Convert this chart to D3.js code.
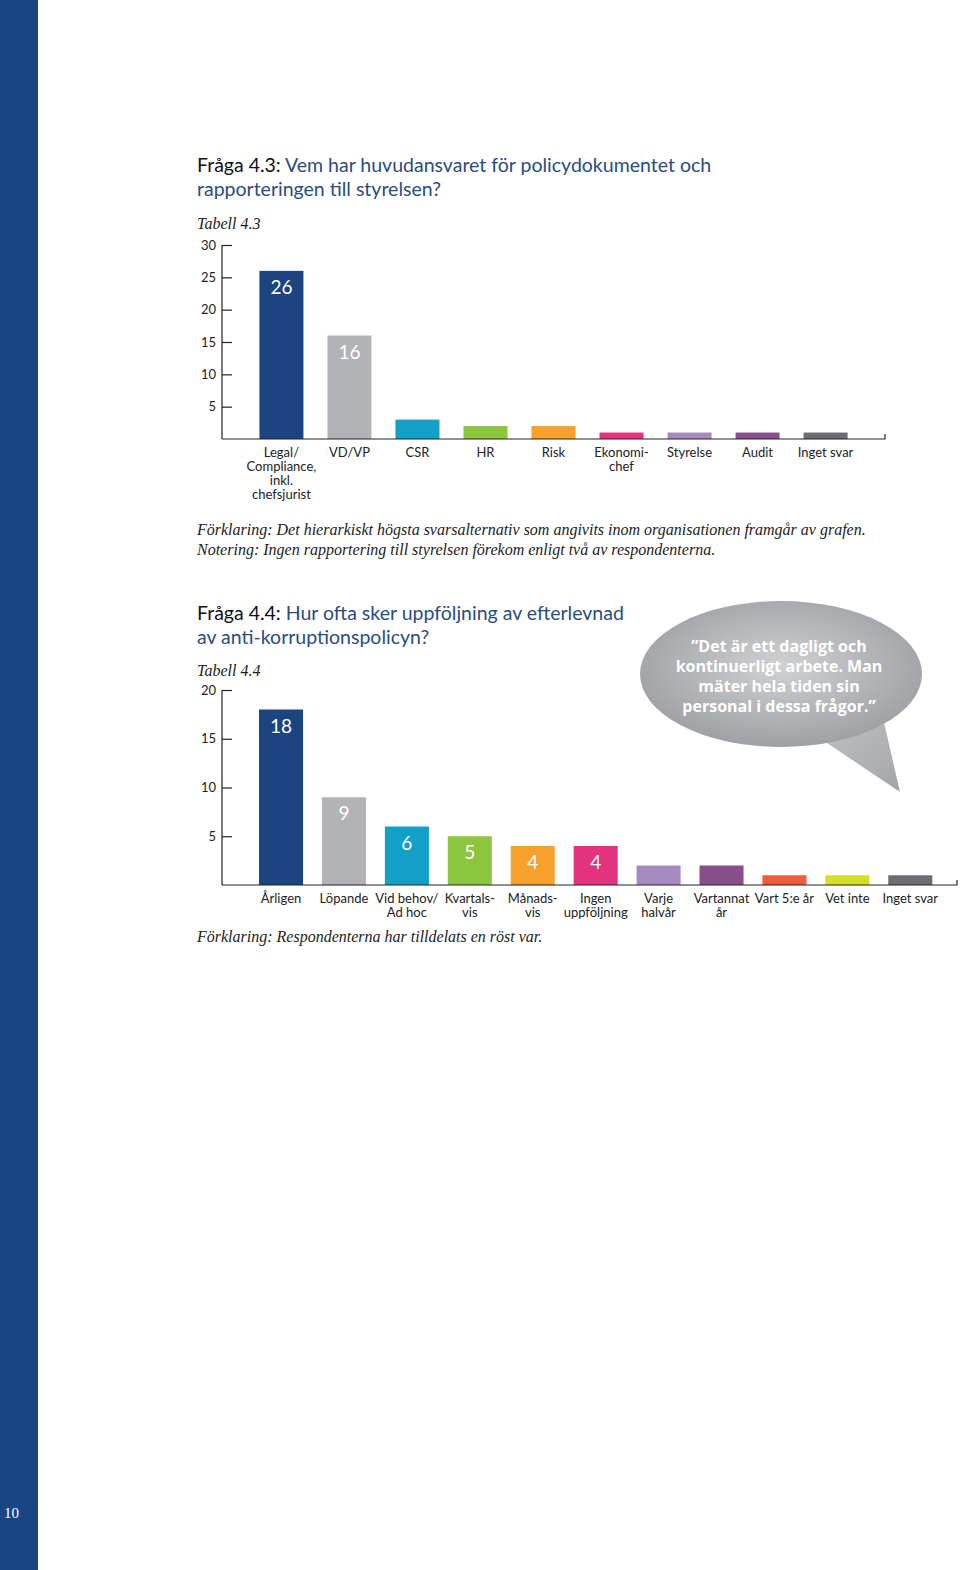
<!DOCTYPE html>
<html><head><meta charset="utf-8">
<script src="https://cdn.jsdelivr.net/npm/d3@7"></script>
<style>
html,body{margin:0;padding:0;background:#fff;}
svg{display:block;}
</style></head>
<body>
<script>
// ---- Data ----
const cats1 = ["Legal/\nCompliance,\ninkl.\nchefsjurist","VD/VP","CSR","HR","Risk","Ekonomi-\nchef","Styrelse","Audit","Inget svar"];
const vals1 = [26,16,3,2,2,1,1,1,1];
const labels1 = ["26","16","","","","","","",""];
const colors1 = ["#1b4480","#b1b3b6","#139fc8","#8cc63f","#f7a02c","#e3327e","#a58ac0","#874f8a","#6c6d70"];
const ticks1 = [5,10,15,20,25,30];

const cats2 = ["Årligen","Löpande","Vid behov/\nAd hoc","Kvartals-\nvis","Månads-\nvis","Ingen\nuppföljning","Varje\nhalvår","Vartannat\når","Vart 5:e år","Vet inte","Inget svar"];
const vals2 = [18,9,6,5,4,4,2,2,1,1,1];
const labels2 = ["18","9","6","5","4","4","","","","",""];
const colors2 = ["#1b4480","#b1b3b6","#139fc8","#8cc63f","#f7a02c","#e3327e","#a58ac0","#874f8a","#f15a3b","#d5de26","#6c6d70"];
const ticks2 = [5,10,15,20];

const quoteLines = ["”Det är ett dagligt och","kontinuerligt arbete. Man","mäter hela tiden sin","personal i dessa frågor.”"];

const W = 960, H = 1570;
const sans = "Lato, 'Open Sans', sans-serif";
const serif = "'Liberation Serif', 'DejaVu Serif', serif";
const blue = "#2a4d80";

const svg = d3.select("body").append("svg").attr("width", W).attr("height", H);

// left band
svg.append("rect").attr("x",0).attr("y",0).attr("width",38).attr("height",H).attr("fill","#174683");
svg.append("text").attr("x",4).attr("y",1518).attr("fill","#fff").attr("font-family",serif).attr("font-size",15).text("10");

function title(y, num, rest1, rest2){
  const t = svg.append("text").attr("x",197).attr("y",y).attr("font-family",sans).attr("font-size",19.5);
  t.append("tspan").attr("fill","#111").text(num);
  t.append("tspan").attr("fill",blue).text(rest1);
  svg.append("text").attr("x",197).attr("y",y+24).attr("font-family",sans).attr("font-size",19.5).attr("fill",blue).text(rest2);
}
function italic(x,y,txt,size){
  svg.append("text").attr("x",x).attr("y",y).attr("font-family",serif).attr("font-style","italic").attr("font-size",size||16).attr("fill","#222").text(txt);
}

function chart(opts){
  const {cats, vals, labels, colors, ticks, dom, y0, y1, x0, x1, align, pi, po} = opts;
  const x = d3.scaleBand().domain(cats).range([x0,x1]).paddingInner(pi).paddingOuter(po).align(align);
  const y = d3.scaleLinear().domain([0,dom]).range([y0,y1]);
  const g = svg.append("g");
  g.selectAll("rect.bar").data(cats).join("rect").attr("class","bar")
    .attr("x", d=>x(d)).attr("width", x.bandwidth())
    .attr("y", (d,i)=>y(vals[i])).attr("height",(d,i)=>y0-y(vals[i]))
    .attr("fill",(d,i)=>colors[i]);
  g.selectAll("text.val").data(cats).join("text").attr("class","val")
    .attr("x", d=>x(d)+x.bandwidth()/2).attr("y",(d,i)=>y(vals[i])+23)
    .attr("text-anchor","middle").attr("font-family",sans).attr("font-size",19).attr("fill","#fff")
    .text((d,i)=>labels[i]);
  // y axis
  const ax = d3.axisLeft(y).tickValues(ticks).tickSize(-10).tickPadding(6).tickFormat(d3.format("d"));
  const ag = svg.append("g").attr("transform",`translate(${x0},0)`).call(ax);
  ag.select(".domain").attr("d", `M0,${y1}V${y0}`).attr("stroke","#222").attr("stroke-width",1.2);
  ag.selectAll(".tick line").attr("stroke","#222").attr("stroke-width",1.2);
  ag.selectAll(".tick text").attr("font-family",sans).attr("font-size",13).attr("fill","#222");
  // baseline
  svg.append("path").attr("d",`M${x0},${y0}H${x1}V${y0-5}`).attr("fill","none").attr("stroke","#222").attr("stroke-width",1.2);
  // category labels
  cats.forEach((c)=>{
    const lines = c.split("\n");
    const t = svg.append("text").attr("text-anchor","middle").attr("font-family",sans).attr("font-size",13).attr("fill","#222");
    lines.forEach((l,k)=>{
      t.append("tspan").attr("x", x(c)+x.bandwidth()/2).attr("y", y0+18+k*14).text(l);
    });
  });
}

// ---- Chart 1 ----
title(172, "Fråga 4.3: ", "Vem har huvudansvaret för policydokumentet och", "rapporteringen till styrelsen?");
italic(197, 229, "Tabell 4.3");
chart({cats:cats1, vals:vals1, labels:labels1, colors:colors1, ticks:ticks1, dom:30, y0:439, y1:245, x0:222, x1:885, align:0.5, pi:0.353, po:0.55});
italic(197, 535, "Förklaring: Det hierarkiskt högsta svarsalternativ som angivits inom organisationen framgår av grafen.");
italic(197, 555, "Notering: Ingen rapportering till styrelsen förekom enligt två av respondenterna.");

// ---- Chart 2 ----
title(620, "Fråga 4.4: ", "Hur ofta sker uppföljning av efterlevnad", "av anti-korruptionspolicyn?");
italic(197, 676, "Tabell 4.4");
chart({cats:cats2, vals:vals2, labels:labels2, colors:colors2, ticks:ticks2, dom:20, y0:885, y1:690, x0:222, x1:957, align:0.6, pi:0.30, po:0.49});
italic(197, 942, "Förklaring: Respondenterna har tilldelats en röst var.");

// ---- Speech bubble ----
const defs = svg.append("defs");
const rg = defs.append("radialGradient").attr("id","bub").attr("cx","50%").attr("cy","45%").attr("r","60%");
rg.append("stop").attr("offset","0%").attr("stop-color","#d0d1d3");
rg.append("stop").attr("offset","100%").attr("stop-color","#9a9c9f");
const lg = defs.append("linearGradient").attr("id","tail").attr("x1","0").attr("y1","0").attr("x2","1").attr("y2","1");
lg.append("stop").attr("offset","0%").attr("stop-color","#c4c5c7");
lg.append("stop").attr("offset","100%").attr("stop-color","#a3a5a8");
svg.append("path").attr("d","M815,735 L900,792 L880,705 Z").attr("fill","url(#tail)");
svg.append("ellipse").attr("cx",781).attr("cy",674).attr("rx",141).attr("ry",73).attr("fill","url(#bub)");
const qt = svg.append("text").attr("text-anchor","middle").attr("font-family","'Open Sans', Lato, sans-serif").attr("font-weight","bold").attr("font-size",16).attr("fill","#fff");
quoteLines.forEach((l,k)=>qt.append("tspan").attr("x",779).attr("y",652+k*20).text(l));
</script>
</body></html>
